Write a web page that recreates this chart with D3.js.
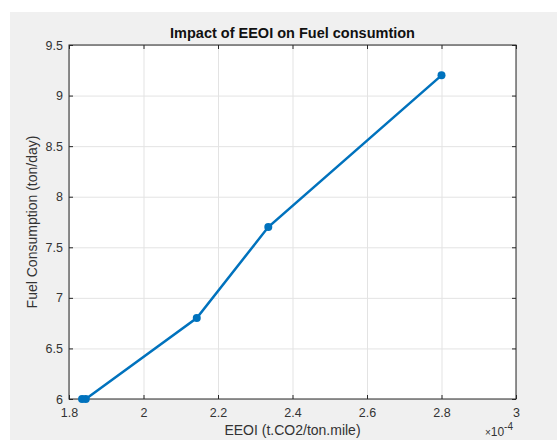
<!DOCTYPE html>
<meta charset="utf-8">
<style>
  body { margin: 0; background: #fff; }
  svg text { font-family: "Liberation Sans", Arial, sans-serif; }
  .axis .domain { display: none; }
  .axis .tick line { stroke: #262626; }
  .axis text { fill: #333; font-size: 12.5px; }
  .grid .domain { display: none; }
  .grid .tick line { stroke: #e3e3e3; }
</style>
<body>
<script src="https://d3js.org/d3.v7.min.js"></script>
<script>

  var eeoi = [1.835, 1.845, 2.143, 2.335, 2.8];   // x 10^-4
  var fuel = [6.0, 6.0, 6.8, 7.7, 9.2];
  var xTicks = [1.8, 2, 2.2, 2.4, 2.6, 2.8, 3];
  var yTicks = [6, 6.5, 7, 7.5, 8, 8.5, 9, 9.5];

  var W = 557, H = 440;
  var margin = { top: 45, right: 41, bottom: 41, left: 69 },
    width = W - margin.left - margin.right,
    height = H - margin.top - margin.bottom;

  var svg = d3.select("body").append("svg")
    .attr("width", W)
    .attr("height", H);

  // figure background
  svg.append("rect")
    .attr("x", 10).attr("y", 12)
    .attr("width", W - 10).attr("height", H - 12)
    .attr("fill", "#f0f0f0");

  var g = svg.append("g")
    .attr("transform", "translate(" + margin.left + "," + margin.top + ")");

  var x = d3.scaleLinear().domain([1.8, 3]).range([0, width]);
  var y = d3.scaleLinear().domain([6, 9.5]).range([height, 0]);
  var fmt = function (d) { return String(+d.toFixed(1)); };

  g.append("rect")
    .attr("width", width).attr("height", height)
    .attr("fill", "#fff");

  // grid
  g.append("g").attr("class", "grid")
    .attr("transform", "translate(0," + height + ")")
    .call(d3.axisBottom(x).tickValues(xTicks).tickSize(-height).tickFormat(""));
  g.append("g").attr("class", "grid")
    .call(d3.axisLeft(y).tickValues(yTicks).tickSize(-width).tickFormat(""));

  // axes with inward ticks
  g.append("g").attr("class", "axis")
    .attr("transform", "translate(0," + height + ")")
    .call(d3.axisBottom(x).tickValues(xTicks).tickSizeInner(-4).tickSizeOuter(0).tickPadding(9)
      .tickFormat(fmt));
  g.append("g").attr("class", "axis")
    .call(d3.axisLeft(y).tickValues(yTicks).tickSizeInner(-4).tickSizeOuter(0).tickPadding(6)
      .tickFormat(fmt));
  g.append("g").attr("class", "axis")
    .call(d3.axisTop(x).tickValues(xTicks).tickSizeInner(-4).tickSizeOuter(0).tickFormat(""));
  g.append("g").attr("class", "axis")
    .attr("transform", "translate(" + width + ",0)")
    .call(d3.axisRight(y).tickValues(yTicks).tickSizeInner(-4).tickSizeOuter(0).tickFormat(""));

  // box
  g.append("rect")
    .attr("width", width).attr("height", height)
    .attr("fill", "none").attr("stroke", "#262626").attr("stroke-width", 1);

  var pts = eeoi.map(function (d, i) { return [d, fuel[i]]; });

  g.append("path")
    .datum(pts)
    .attr("fill", "none")
    .attr("stroke", "#0072BD")
    .attr("stroke-width", 2.5)
    .attr("d", d3.line().x(function (d) { return x(d[0]); }).y(function (d) { return y(d[1]); }));

  g.selectAll(".dot")
    .data(pts)
    .enter().append("circle")
    .attr("cx", function (d) { return x(d[0]); })
    .attr("cy", function (d) { return y(d[1]); })
    .attr("r", 4)
    .attr("fill", "#0072BD");

  // title
  svg.append("text")
    .attr("x", margin.left + width / 2).attr("y", 38)
    .attr("text-anchor", "middle")
    .style("font-size", "14.5px").style("font-weight", "bold")
    .attr("fill", "#111")
    .text("Impact of EEOI on Fuel consumtion");

  // axis labels
  svg.append("text")
    .attr("x", margin.left + width / 2).attr("y", 435)
    .attr("text-anchor", "middle")
    .style("font-size", "14px")
    .attr("fill", "#333")
    .text("EEOI (t.CO2/ton.mile)");

  svg.append("text")
    .attr("transform", "translate(37," + (margin.top + height / 2) + ") rotate(-90)")
    .attr("text-anchor", "middle")
    .style("font-size", "14px")
    .attr("fill", "#333")
    .text("Fuel Consumption (ton/day)");

  // exponent
  var ex = svg.append("text")
    .attr("x", 513).attr("y", 436)
    .attr("text-anchor", "end")
    .attr("fill", "#333")
    .style("font-size", "12px");
  ex.append("tspan").style("font-size", "10px").text("\u00d7");
  ex.append("tspan").text("10");
  ex.append("tspan").attr("dy", -6).style("font-size", "10px").text("-4");

</script>
